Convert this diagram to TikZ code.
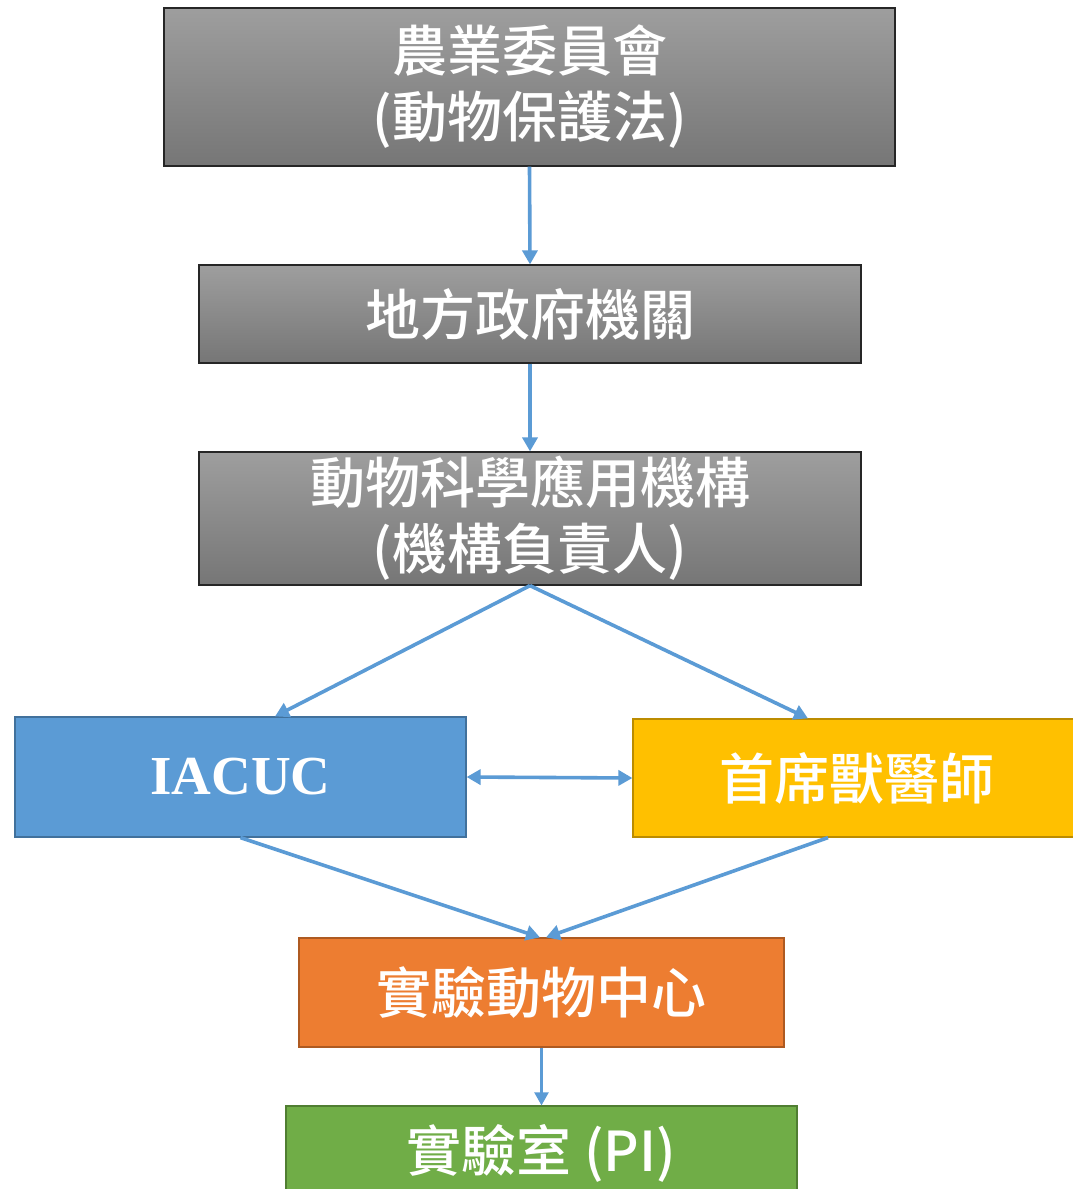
\documentclass[tikz,border=0pt]{standalone}
\usepackage{fontspec}
\setmainfont{Noto Sans CJK TC}
\newfontfamily\cjkmed{Noto Sans CJK TC Medium}
\newfontfamily\latinserif{Liberation Serif}
\usetikzlibrary{arrows.meta,positioning}
\definecolor{arrowblue}{HTML}{5B9BD5}
\definecolor{boxblue}{HTML}{5B9BD5}
\definecolor{boxblueline}{HTML}{41719C}
\definecolor{boxyellow}{HTML}{FFC000}
\definecolor{boxyellowline}{HTML}{BC8C00}
\definecolor{boxorange}{HTML}{ED7D31}
\definecolor{boxorangeline}{HTML}{AE5A21}
\definecolor{boxgreen}{HTML}{70AD47}
\definecolor{boxgreenline}{HTML}{507E32}
\definecolor{graytop}{RGB}{158,158,158}
\definecolor{graybot}{RGB}{118,118,118}
\tikzset{
  basebox/.style={rectangle, inner sep=0pt, text=white, align=center,
    font=\cjkmed\fontsize{55}{66}\selectfont, line width=1.2pt},
  graybox/.style={basebox, draw=black!85, top color=graytop, bottom color=graybot},
  bluebox/.style={basebox, draw=boxblueline, fill=boxblue},
  yellowbox/.style={basebox, draw=boxyellowline, fill=boxyellow},
  orangebox/.style={basebox, draw=boxorangeline, fill=boxorange},
  greenbox/.style={basebox, draw=boxgreenline, fill=boxgreen},
  tip/.tip={Triangle[length=14pt,width=15pt]},
  conn/.style={draw=arrowblue, line width=3.6pt, -tip},
  thinconn/.style={draw=arrowblue, line width=2.2pt, -{Triangle[length=13pt,width=14pt]}},
}
\begin{document}
\begin{tikzpicture}[x=1pt,y=-1pt]
\useasboundingbox[fill=white] (0,0) rectangle (1073,1189);
\node[graybox, minimum width=731pt, minimum height=158pt] (b1) at (529.5,87) {農業委員會\\(動物保護法)};
\node[graybox, minimum width=662pt, minimum height=98pt] (b2) at (530,314) {地方政府機關};
\node[graybox, minimum width=662pt, minimum height=133pt] (b3) at (530,518.5) {動物科學應用機構\\(機構負責人)};
\node[bluebox, minimum width=451pt, minimum height=120pt, font=\latinserif\bfseries\fontsize{55}{60}\selectfont] (iacuc) at (240.5,777) {IACUC};
\node[yellowbox, minimum width=460pt, minimum height=118pt] (vet) at (863,778) {\hspace*{-6pt}首席獸醫師\hspace*{6pt}};
\node[orangebox, minimum width=485pt, minimum height=109pt] (center) at (541.5,992.5) {實驗動物中心};
\node[greenbox, minimum width=511pt, minimum height=94pt] (lab) at (541.5,1153) {實驗室 (PI)};

\draw[conn] (b1.south) -- (b2.north);
\draw[conn] (b2.south) -- (b3.north);
\draw[conn] (b3.south) -- ([xshift=34.5pt]iacuc.north);
\draw[conn] (b3.south) -- ([xshift=-55pt]vet.north);
\draw[conn, tip-tip] (iacuc.east) -- (vet.west);
\draw[conn] (iacuc.south) -- ([xshift=-1.5pt]center.north);
\draw[conn] ([xshift=-35pt]vet.south) -- ([xshift=4.5pt]center.north);
\draw[thinconn] (center.south) -- (lab.north);
\end{tikzpicture}
\end{document}
